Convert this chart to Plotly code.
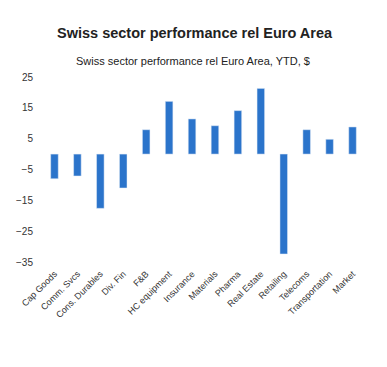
import plotly.graph_objects as go

categories = ["Cap Goods", "Comm. Svcs", "Cons. Durables", "Div. Fin", "F&B", "HC equipment",
              "Insurance", "Materials", "Pharma", "Real Estate", "Retailing", "Telecoms",
              "Transportation", "Market"]
values = [-8.0, -7.1, -17.6, -11.0, 7.9, 17.1, 11.4, 9.2, 14.1, 21.3, -32.4, 7.9, 4.8, 8.8]
y_ticks = [-35, -25, -15, -5, 5, 15, 25]

title_text = "Swiss sector performance rel Euro Area"
subtitle_text = "Swiss sector performance rel Euro Area, YTD, $"

fig = go.Figure(go.Bar(x=categories, y=values, marker_color="#2b74cb", width=0.33))

fig.update_layout(
    width=379, height=359,
    margin=dict(l=35, r=23, t=69, b=105),
    plot_bgcolor="white", paper_bgcolor="white",
    showlegend=False,
    font=dict(family="Liberation Sans, Arial, sans-serif", color="#333333"),
    xaxis=dict(tickangle=-45, automargin=False,
               tickfont=dict(size=9, family="Liberation Sans, sans-serif", color="#333"),
               showgrid=False, showline=False, ticks="", ticklabelstandoff=4),
    yaxis=dict(range=[-35, 25], tickvals=y_ticks, showgrid=False, zeroline=False, showline=False,
               automargin=False,
               tickfont=dict(size=10, family="Liberation Sans, sans-serif", color="#333"),
               ticklabelstandoff=9),
    annotations=[
        dict(text="<b>" + title_text + "</b>", xref="paper", yref="paper", x=0.473, y=1.236,
             xanchor="center", yanchor="middle", showarrow=False,
             font=dict(size=14.5, color="#222", family="Liberation Sans, Arial, sans-serif")),
        dict(text=subtitle_text, xref="paper", yref="paper", x=0.467, y=1.089,
             xanchor="center", yanchor="middle", showarrow=False,
             font=dict(size=11, color="#222", family="Liberation Sans, sans-serif")),
    ],
)

fig.write_html("out.html")
